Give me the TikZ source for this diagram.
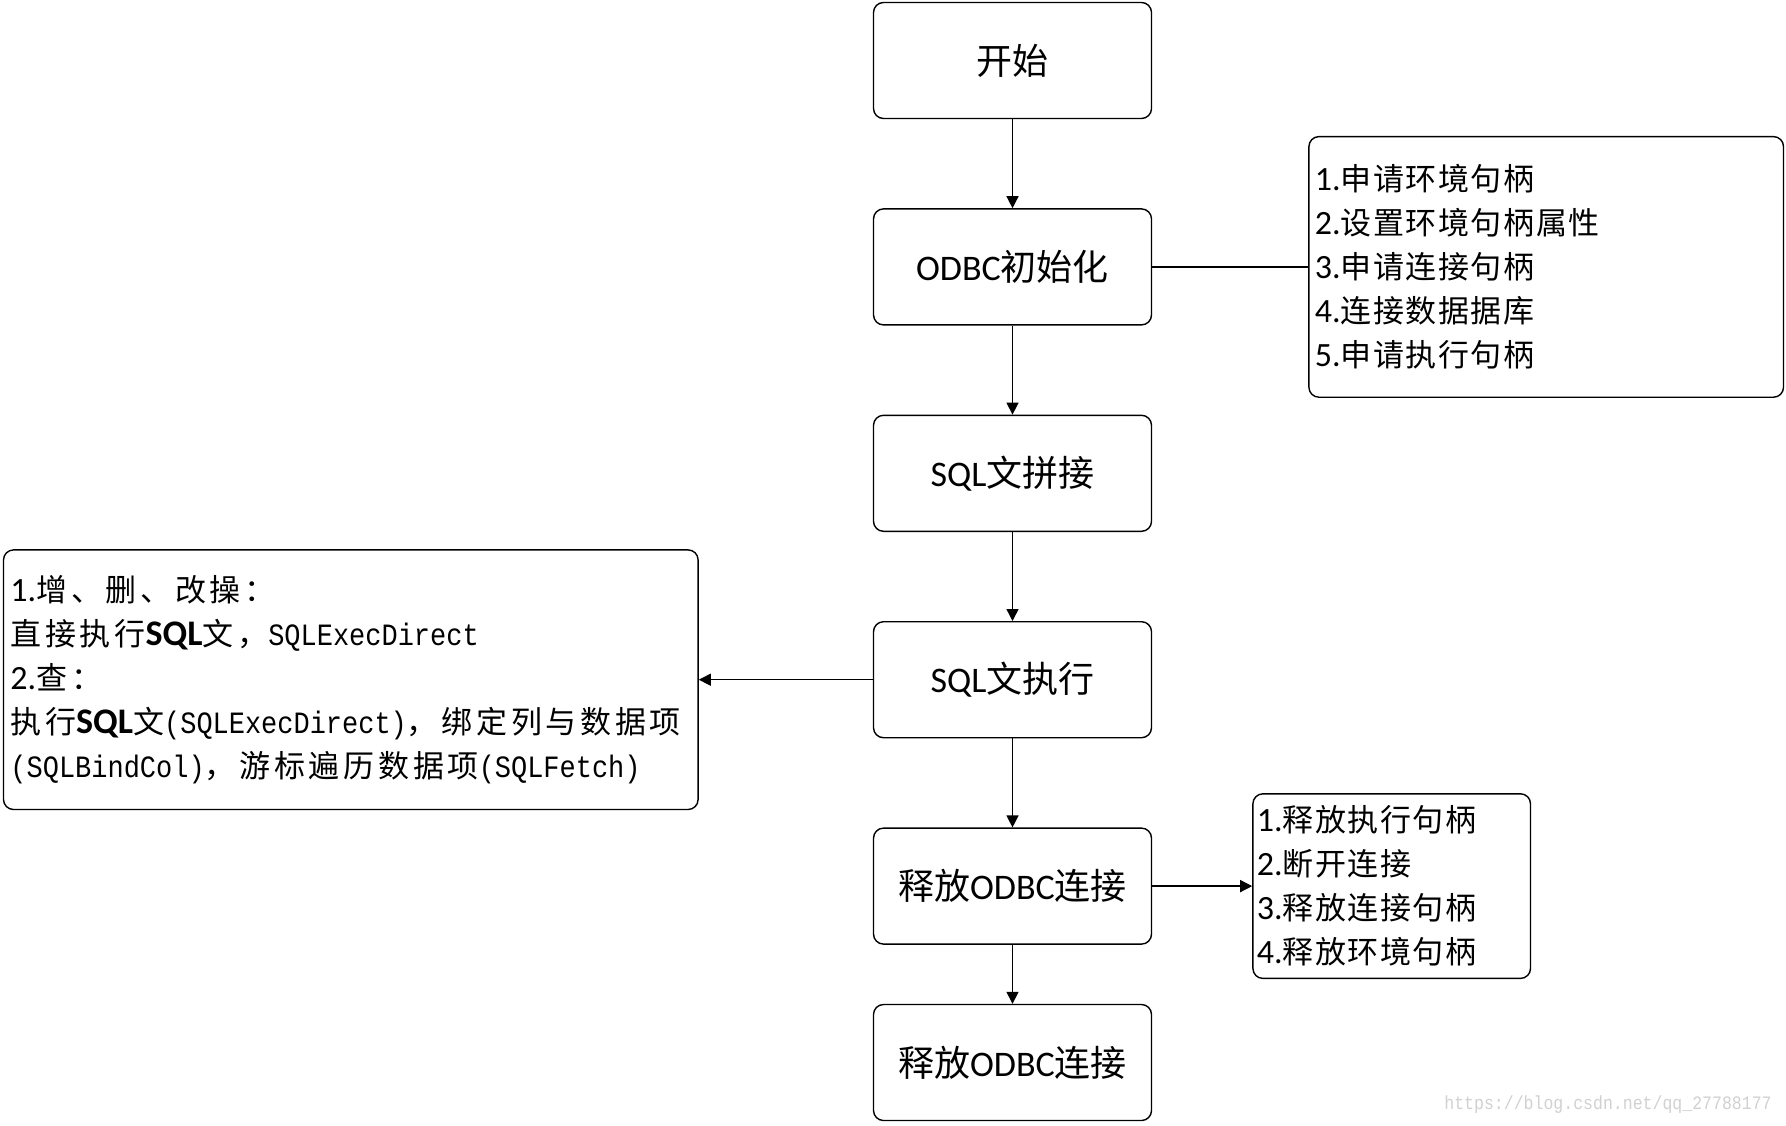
\documentclass[tikz,border=0pt]{standalone}
\usepackage{fontspec}
\setmainfont{Noto Sans CJK SC}
\newfontfamily\latfont{Carlito}
\newfontfamily\sqlfont[FakeStretch=0.87]{Liberation Mono}
\newfontfamily\notefont[LetterSpace=5]{Noto Sans CJK SC}
\newfontfamily\widenotefont[LetterSpace=12]{Noto Sans CJK SC}
\usetikzlibrary{positioning,arrows.meta}
\newcommand{\eng}[1]{{\latfont #1}}
\newcommand{\idx}[1]{{\latfont\fontsize{17pt}{22pt}\selectfont #1}}
\newcommand{\bsql}{{\latfont\bfseries\fontsize{18pt}{22pt}\selectfont SQL}}
\newcommand{\fn}[1]{{\sqlfont\fontsize{15.5pt}{22pt}\selectfont #1}}
\tikzset{
  stepbox/.style={draw, rounded corners=5pt, line width=0.7pt, minimum width=139pt, minimum height=58pt, font=\fontsize{18pt}{22pt}\selectfont},
  notebox/.style={draw, rounded corners=5pt, line width=0.7pt, align=left, font=\notefont\fontsize{15.5pt}{22pt}\selectfont},
  flow/.style={line width=0.7pt, -{Triangle[length=6pt,width=6pt]}},
  node distance=44.5pt
}
\begin{document}
\begin{tikzpicture}
\fill[white] (0,0) rectangle (893pt,-562.5pt);
\node[stepbox] (start) at (506.25pt,-30.25pt) {开始};
\node[stepbox, below=of start] (init) {\eng{ODBC}初始化};
\node[stepbox, below=of init] (join) {\eng{SQL}文拼接};
\node[stepbox, below=of join] (exec) {\eng{SQL}文执行};
\node[stepbox, below=of exec] (rel1) {释放\eng{ODBC}连接};
\node[stepbox, below=29.5pt of rel1] (rel2) {释放\eng{ODBC}连接};
\node[notebox, right=78pt of init, inner xsep=3pt, text width=231.3pt, minimum height=130.3pt] (envnote) {\idx{1.}申请环境句柄\\\idx{2.}设置环境句柄属性\\\idx{3.}申请连接句柄\\\idx{4.}连接数据据库\\\idx{5.}申请执行句柄};
\node[notebox, font=\widenotefont\fontsize{15.5pt}{22pt}\selectfont, left=87pt of exec, inner xsep=3.5pt, text width=340.3pt, minimum height=129.8pt] (sqlnote) {\idx{1.}增、删、改操：\\直接执行\bsql 文，\fn{SQLExecDirect}\\\idx{2.}查：\\执行\bsql 文\fn{(SQLExecDirect)}，绑定列与数据项\\\fn{(SQLBindCol)}，游标遍历数据项\fn{(SQLFetch)}};
\node[notebox, right=50pt of rel1, inner xsep=2pt, text width=134.8pt, minimum height=92.3pt] (relnote) {\idx{1.}释放执行句柄\\\idx{2.}断开连接\\\idx{3.}释放连接句柄\\\idx{4.}释放环境句柄};
\node[text=black!18, font=\sqlfont\fontsize{9.5pt}{10pt}\selectfont] (mark) at (804pt,-552.5pt) {https://blog.csdn.net/qq\_27788177};
\draw[flow] (start) -- (init);
\draw[flow] (init) -- (join);
\draw[flow] (join) -- (exec);
\draw[flow] (exec) -- (rel1);
\draw[flow] (rel1) -- (rel2);
\draw[line width=0.7pt] (init) -- (envnote);
\draw[flow] (exec) -- (sqlnote);
\draw[flow] (rel1) -- (relnote);
\end{tikzpicture}
\end{document}
